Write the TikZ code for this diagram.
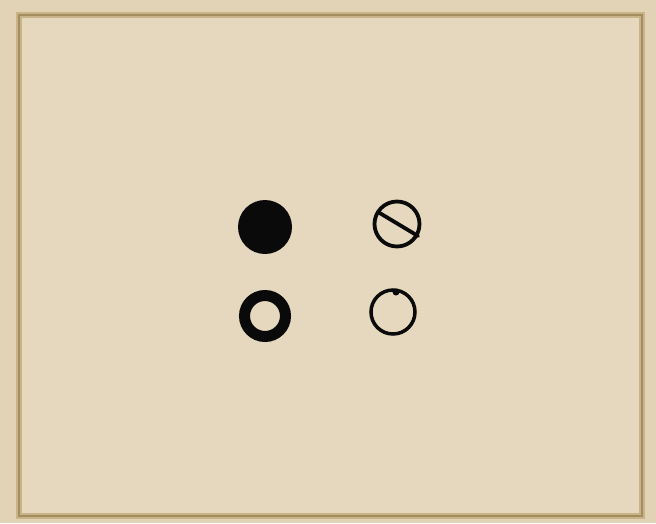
\documentclass[tikz,border=0pt]{standalone}
\usetikzlibrary{calc}
\definecolor{paper}{HTML}{E6D8BF}
\definecolor{paperout}{HTML}{E2D2B6}
\definecolor{edge}{HTML}{A38C5E}
\definecolor{edgesoft}{HTML}{C9B48A}
\definecolor{ink}{HTML}{0A0A0A}
\tikzset{
  frame/.style={draw=edge, line width=2.5pt},
  framesoft/.style={draw=edgesoft, line width=6pt},
  inkline/.style={draw=ink, line width=#1},
}
\begin{document}
\begin{tikzpicture}[x=1pt,y=-1pt]
\useasboundingbox (0,0) rectangle (656,523);
\fill[paperout] (0,0) rectangle (656,523);
\fill[paper] (19,15) rectangle (642,516);
\draw[framesoft] (19,15) rectangle (642,516);
\draw[frame] (19,15) rectangle (642,516);
% filled disc
\node[circle, fill=ink, minimum size=54pt, inner sep=0pt] (dot) at (265,227) {};
% thick ring
\node[circle, draw=ink, line width=11pt, minimum size=41pt, inner sep=0pt] (ring) at (265,316) {};
% slashed circle
\node[circle, draw=ink, line width=3.8pt, minimum size=45pt, inner sep=0pt] (slash) at (397,224) {};
\draw[inkline=3.8pt, line cap=round] ($(slash)+(-19,-12)$) -- ($(slash)+(21,12)$);
% small circle with tick
\node[circle, draw=ink, line width=3.5pt, minimum size=44pt, inner sep=0pt] (small) at (393,312) {};
\fill[ink] ($(small)+(3,-20)$) circle (3.5pt);
\end{tikzpicture}
\end{document}
